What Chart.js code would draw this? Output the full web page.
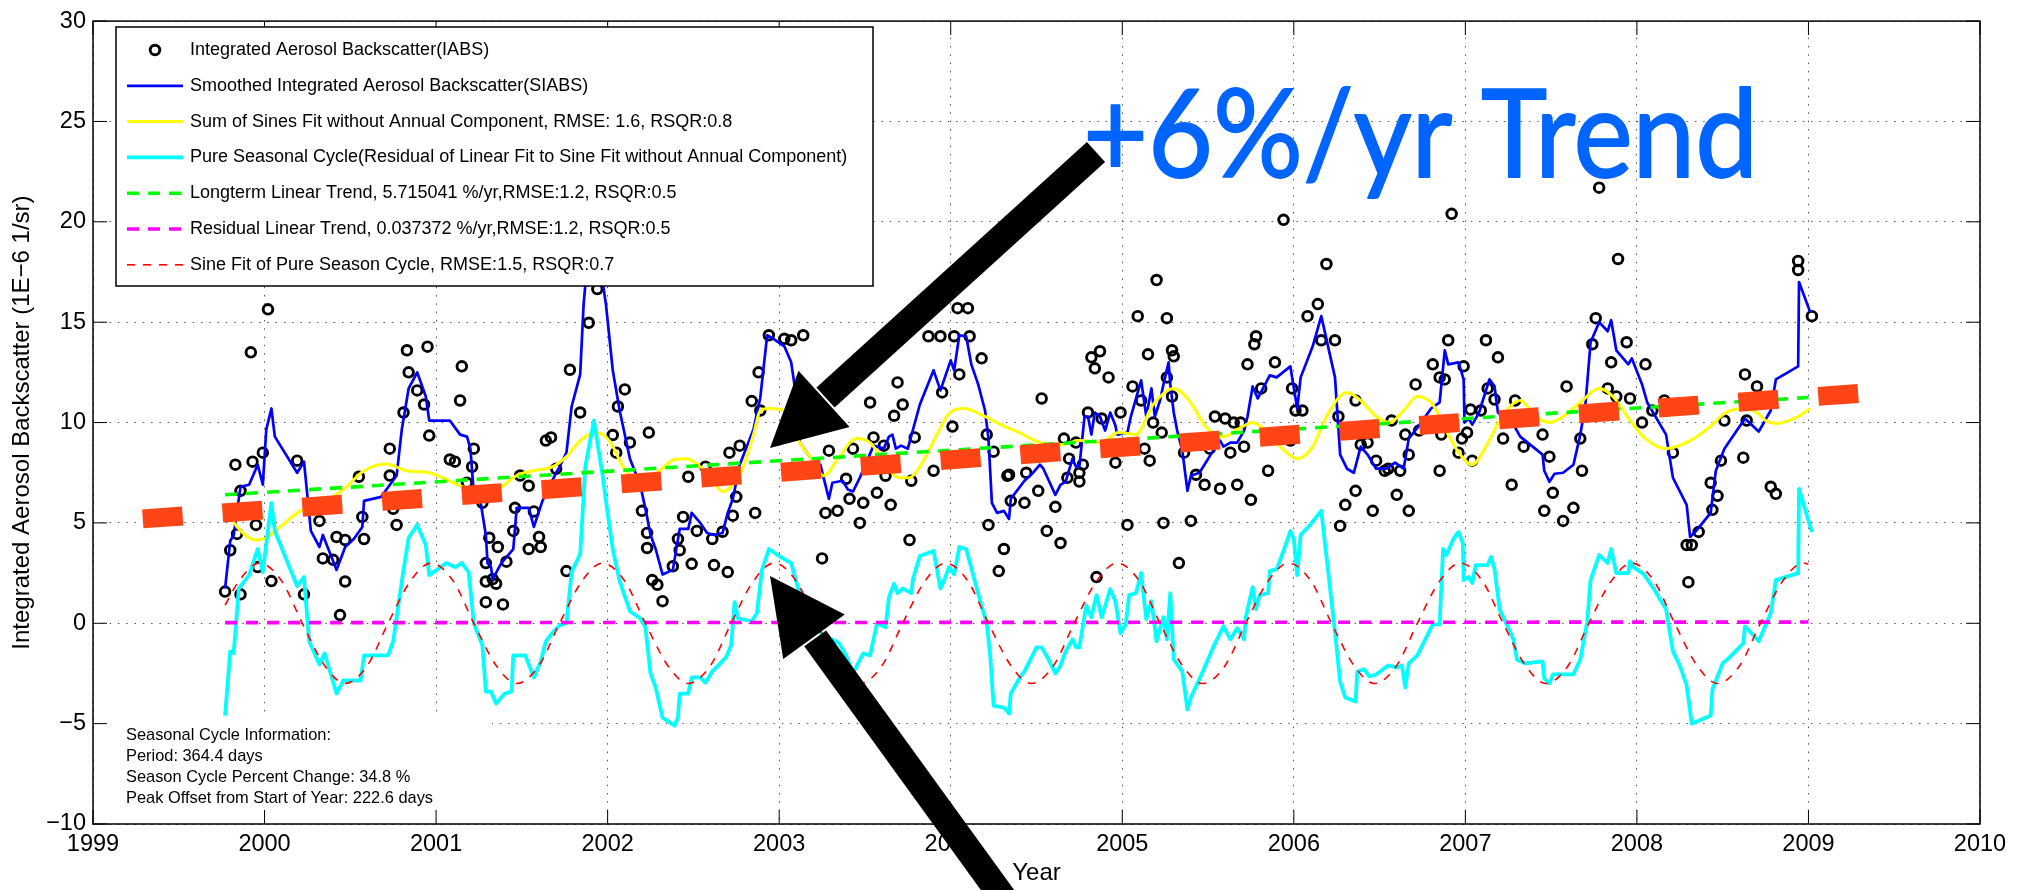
<!DOCTYPE html>
<html>
<head>
<meta charset="utf-8">
<title>Integrated Aerosol Backscatter</title>
<script src="https://cdn.jsdelivr.net/npm/chart.js@4.4.1/dist/chart.umd.min.js"></script>
<style>
  html, body { margin: 0; padding: 0; background: #fff; overflow: hidden; }
  canvas { display: block; }
</style>
</head>
<body>
<canvas id="myChart" width="2026" height="890" style="width:2026px;height:890px"></canvas>
<script>
// axis ticks
const yearTicks = [1999, 2000, 2001, 2002, 2003, 2004, 2005, 2006, 2007, 2008, 2009, 2010];
const valueTicks = [-10, -5, 0, 5, 10, 15, 20, 25, 30];

// Integrated Aerosol Backscatter (circles)
const iabsYear = [1999.77, 1999.80, 1999.83, 1999.84, 1999.86, 1999.86, 1999.92, 1999.93, 1999.95, 1999.96, 1999.99, 2000.02, 2000.04,
  2000.19, 2000.23, 2000.32, 2000.34, 2000.40, 2000.42, 2000.44, 2000.47, 2000.47, 2000.55, 2000.57, 2000.58, 2000.73, 2000.73,
  2000.75, 2000.77, 2000.81, 2000.83, 2000.84, 2000.89, 2000.93, 2000.95, 2000.96, 2001.08, 2001.11, 2001.14, 2001.15, 2001.18,
  2001.21, 2001.22, 2001.27, 2001.29, 2001.29, 2001.29, 2001.31, 2001.33, 2001.35, 2001.36, 2001.39, 2001.41, 2001.45, 2001.46,
  2001.49, 2001.54, 2001.54, 2001.57, 2001.60, 2001.61, 2001.64, 2001.67, 2001.70, 2001.76, 2001.78, 2001.84, 2001.89, 2001.94,
  2002.03, 2002.05, 2002.06, 2002.10, 2002.13, 2002.20, 2002.23, 2002.23, 2002.24, 2002.26, 2002.29, 2002.32, 2002.38, 2002.41,
  2002.42, 2002.44, 2002.47, 2002.49, 2002.52, 2002.57, 2002.61, 2002.62, 2002.67, 2002.70, 2002.71, 2002.73, 2002.75, 2002.77,
  2002.84, 2002.86, 2002.88, 2002.89, 2002.94, 2003.03, 2003.07, 2003.14, 2003.25, 2003.27, 2003.29, 2003.34, 2003.39, 2003.41,
  2003.43, 2003.47, 2003.49, 2003.53, 2003.55, 2003.57, 2003.61, 2003.62, 2003.65, 2003.67, 2003.69, 2003.72, 2003.76, 2003.77,
  2003.79, 2003.81, 2003.87, 2003.90, 2003.94, 2003.95, 2004.01, 2004.02, 2004.04, 2004.05, 2004.10, 2004.11, 2004.18, 2004.21,
  2004.22, 2004.25, 2004.28, 2004.31, 2004.33, 2004.35, 2004.34, 2004.43, 2004.44, 2004.51, 2004.53, 2004.56, 2004.61, 2004.64,
  2004.66, 2004.68, 2004.69, 2004.73, 2004.75, 2004.75, 2004.77, 2004.80, 2004.82, 2004.84, 2004.85, 2004.87, 2004.88, 2004.92,
  2004.96, 2004.99, 2005.03, 2005.06, 2005.09, 2005.11, 2005.13, 2005.15, 2005.16, 2005.18, 2005.20, 2005.23, 2005.24, 2005.26,
  2005.26, 2005.29, 2005.29, 2005.30, 2005.33, 2005.36, 2005.40, 2005.43, 2005.48, 2005.51, 2005.54, 2005.57, 2005.60, 2005.63,
  2005.65, 2005.67, 2005.69, 2005.71, 2005.73, 2005.75, 2005.77, 2005.78, 2005.81, 2005.85, 2005.89, 2005.94, 2005.98, 2005.99,
  2006.01, 2006.05, 2006.08, 2006.14, 2006.16, 2006.19, 2006.24, 2006.26, 2006.27, 2006.30, 2006.36, 2006.36, 2006.39, 2006.43,
  2006.46, 2006.48, 2006.53, 2006.55, 2006.57, 2006.60, 2006.62, 2006.65, 2006.67, 2006.67, 2006.71, 2006.73, 2006.81, 2006.85,
  2006.85, 2006.86, 2006.88, 2006.90, 2006.92, 2006.96, 2006.98, 2006.99, 2007.01, 2007.03, 2007.04, 2007.09, 2007.12, 2007.13,
  2007.17, 2007.19, 2007.22, 2007.27, 2007.29, 2007.34, 2007.45, 2007.46, 2007.49, 2007.51, 2007.57, 2007.59, 2007.63, 2007.67,
  2007.68, 2007.74, 2007.76, 2007.78, 2007.83, 2007.85, 2007.88, 2007.89, 2007.94, 2007.96, 2008.03, 2008.05, 2008.09, 2008.16,
  2008.21, 2008.29, 2008.30, 2008.32, 2008.36, 2008.43, 2008.44, 2008.47, 2008.49, 2008.51, 2008.62, 2008.63, 2008.64, 2008.70,
  2008.78, 2008.81, 2008.94, 2008.94, 2009.02];
const iabsVal = [1.58, 3.64, 7.9, 4.45, 1.44, 6.6, 13.5, 8.05, 4.9, 2.8, 8.5, 15.64, 2.1,
  8.1, 1.44, 5.1, 3.23, 3.16, 4.3, 0.41, 4.15, 2.08, 7.3, 5.3, 4.2, 8.7, 7.36,
  5.7, 4.9, 10.5, 13.6, 12.5, 11.6, 10.9, 13.78, 9.35, 8.16, 8.05, 11.1, 12.8, 7.0,
  7.8, 8.7, 6.0, 3.0, 2.08, 1.05, 4.26, 2.2, 1.97, 3.8, 0.94, 3.07, 4.6, 5.75,
  7.36, 3.7, 6.85, 5.57, 4.3, 3.8, 9.1, 9.26, 7.7, 2.6, 12.63, 10.5, 14.97, 16.65,
  9.38, 8.5, 10.8, 11.65, 9.0, 5.6, 4.5, 3.75, 9.5, 2.15, 1.92, 1.1, 2.84, 4.2,
  3.64, 5.3, 7.3, 2.96, 4.6, 7.8, 4.2, 2.9, 4.56, 2.55, 8.5, 5.36, 6.3, 8.85,
  11.07, 5.5, 12.5, 10.6, 14.35, 14.17, 14.1, 14.35, 3.23, 5.5, 8.6, 5.6, 7.2, 6.2,
  8.7, 5.0, 6.0, 11.0, 9.26, 6.5, 8.85, 7.35, 5.9, 10.34, 12.0, 10.9, 4.15, 7.1,
  9.26, 15.9, 14.3, 7.6, 14.3, 11.5, 9.8, 14.3, 15.7, 12.4, 15.7, 14.3, 13.2, 9.4,
  4.9, 8.55, 2.6, 3.7, 7.35, 6.1, 7.4, 6.0, 7.5, 6.6, 11.2, 4.6, 5.8, 4.0,
  9.2, 7.25, 8.2, 9.0, 7.06, 7.5, 7.9, 10.5, 13.25, 12.7, 2.3, 13.55, 10.2, 12.25,
  8.0, 10.5, 4.9, 11.8, 15.3, 11.1, 8.7, 13.4, 8.1, 10.0, 17.1, 9.5, 5.0, 15.2,
  12.25, 13.6, 11.3, 13.3, 3.0, 8.5, 5.1, 7.4, 6.9, 8.7, 10.3, 6.7, 10.2, 8.5,
  10.0, 6.9, 10.0, 8.8, 12.9, 6.15, 13.9, 14.3, 11.7, 7.6, 13.0, 20.1, 9.1, 11.7,
  10.6, 10.6, 15.3, 15.9, 14.1, 17.9, 14.1, 10.3, 4.85, 5.9, 6.6, 11.1, 8.9, 9.0,
  5.6, 8.1, 7.6, 7.7, 10.1, 6.4, 7.6, 9.4, 8.4, 5.6, 11.9, 9.6, 12.9, 7.6,
  12.25, 9.4, 12.15, 14.1, 20.4, 8.5, 9.2, 12.8, 9.5, 10.65, 8.1, 10.6, 14.1, 11.7,
  11.15, 13.25, 9.2, 6.9, 11.1, 8.8, 9.4, 5.6, 8.3, 6.5, 5.1, 11.8, 5.75, 9.2,
  7.6, 13.9, 15.2, 21.7, 11.7, 13.0, 11.3, 18.15, 14.0, 11.2, 10.0, 12.9, 10.6, 11.1,
  8.5, 3.9, 2.05, 3.9, 4.55, 7.0, 5.65, 6.35, 8.1, 10.1, 8.25, 12.4, 10.1, 11.8,
  6.8, 6.45, 18.05, 17.6, 15.3];

// Smoothed IABS (blue)
const smoothYear = [1999.77, 1999.80, 1999.82, 1999.86, 1999.91, 1999.96, 1999.99, 2000.01, 2000.04, 2000.06, 2000.19, 2000.23,
  2000.27, 2000.32, 2000.34, 2000.42, 2000.47, 2000.52, 2000.57, 2000.58, 2000.68, 2000.77, 2000.80, 2000.84, 2000.89, 2000.94,
  2000.96, 2001.08, 2001.14, 2001.18, 2001.20, 2001.22, 2001.26, 2001.29, 2001.30, 2001.32, 2001.33, 2001.38, 2001.45, 2001.47,
  2001.54, 2001.57, 2001.62, 2001.70, 2001.72, 2001.76, 2001.79, 2001.84, 2001.86, 2001.88, 2001.96, 2001.99, 2002.03, 2002.07,
  2002.13, 2002.19, 2002.23, 2002.25, 2002.28, 2002.32, 2002.38, 2002.42, 2002.47, 2002.49, 2002.54, 2002.58, 2002.62, 2002.67,
  2002.70, 2002.73, 2002.77, 2002.85, 2002.89, 2002.93, 2002.96, 2003.03, 2003.07, 2003.10, 2003.12, 2003.20, 2003.24, 2003.29,
  2003.31, 2003.37, 2003.40, 2003.43, 2003.47, 2003.55, 2003.61, 2003.64, 2003.66, 2003.68, 2003.71, 2003.75, 2003.78, 2003.82,
  2003.90, 2003.94, 2004.00, 2004.02, 2004.05, 2004.09, 2004.12, 2004.16, 2004.20, 2004.22, 2004.24, 2004.27, 2004.31, 2004.34,
  2004.35, 2004.43, 2004.48, 2004.52, 2004.54, 2004.61, 2004.64, 2004.67, 2004.71, 2004.73, 2004.75, 2004.78, 2004.80, 2004.82,
  2004.84, 2004.87, 2004.90, 2004.93, 2004.96, 2004.97, 2005.03, 2005.05, 2005.11, 2005.14, 2005.17, 2005.19, 2005.22, 2005.24,
  2005.27, 2005.28, 2005.30, 2005.32, 2005.35, 2005.38, 2005.40, 2005.45, 2005.53, 2005.57, 2005.59, 2005.63, 2005.67, 2005.71,
  2005.73, 2005.76, 2005.79, 2005.86, 2005.90, 2005.98, 2005.99, 2006.02, 2006.04, 2006.11, 2006.16, 2006.24, 2006.27, 2006.31,
  2006.35, 2006.39, 2006.43, 2006.48, 2006.54, 2006.59, 2006.64, 2006.66, 2006.67, 2006.73, 2006.80, 2006.85, 2006.88, 2006.90,
  2006.96, 2006.99, 2006.995, 2007.02, 2007.04, 2007.08, 2007.14, 2007.17, 2007.19, 2007.29, 2007.32, 2007.45, 2007.46, 2007.49,
  2007.52, 2007.57, 2007.63, 2007.67, 2007.70, 2007.73, 2007.78, 2007.83, 2007.85, 2007.88, 2007.95, 2007.97, 2008.03, 2008.06,
  2008.17, 2008.21, 2008.29, 2008.31, 2008.35, 2008.43, 2008.46, 2008.51, 2008.63, 2008.71, 2008.78, 2008.81, 2008.94, 2008.945,
  2009.01];
const smoothVal = [1.74, 4.1, 4.4, 6.8, 6.9, 7.9, 6.9, 9.65, 10.7, 9.3, 7.5, 8.05,
  4.6, 3.8, 4.4, 2.66, 3.8, 4.2, 4.8, 6.1, 6.3, 7.36, 9.65, 11.7, 12.5, 11.3,
  10.1, 10.1, 9.4, 9.3, 8.7, 6.45, 6.0, 4.4, 3.0, 2.8, 2.2, 3.0, 3.7, 5.75,
  5.75, 4.8, 6.1, 7.5, 7.8, 8.5, 10.8, 12.4, 15.9, 17.8, 17.6, 15.9, 12.6, 10.6,
  8.2, 6.9, 5.3, 4.4, 3.7, 2.43, 2.66, 4.7, 4.7, 5.5, 5.0, 4.5, 4.4, 4.5,
  5.5, 6.2, 7.9, 9.65, 11.25, 14.35, 14.2, 13.8, 13.0, 11.25, 9.0, 8.05, 7.9, 6.2,
  7.0, 7.1, 6.67, 6.56, 7.25, 8.85, 8.7, 9.3, 9.4, 8.7, 8.85, 8.7, 9.65, 10.9,
  12.6, 11.6, 13.1, 12.6, 14.35, 14.3, 12.9, 11.9, 10.6, 9.2, 6.0, 5.5, 5.6, 5.2,
  6.2, 7.1, 7.5, 7.9, 7.7, 6.4, 6.9, 7.06, 8.2, 7.8, 7.8, 10.3, 10.3, 9.4,
  10.5, 10.3, 9.6, 10.5, 9.85, 9.4, 9.5, 10.3, 12.1, 10.3, 11.7, 10.3, 11.1, 11.9,
  13.0, 11.9, 10.5, 9.6, 8.6, 6.6, 7.35, 7.5, 8.6, 9.1, 8.8, 9.0, 9.0, 9.6,
  10.3, 11.8, 11.2, 12.35, 12.25, 12.8, 12.25, 10.7, 12.25, 13.8, 15.3, 12.25, 8.4, 7.7,
  7.5, 8.8, 8.4, 7.7, 7.7, 8.0, 7.7, 8.7, 9.2, 9.85, 10.7, 11.0, 13.6, 12.9,
  13.0, 12.15, 10.0, 10.2, 9.9, 10.5, 12.15, 11.8, 10.5, 9.75, 9.3, 8.4, 7.6, 7.05,
  7.45, 7.5, 7.9, 9.4, 10.9, 14.0, 15.0, 14.55, 15.1, 13.6, 12.9, 13.2, 11.9, 11.0,
  9.4, 7.25, 5.9, 4.3, 4.65, 5.5, 7.6, 8.7, 10.2, 9.55, 10.6, 12.15, 12.8, 17.0,
  15.5];

// Sum of sines fit without annual component (yellow)
const sinesYear = [1999.77, 1999.84, 1999.95, 2000.01, 2000.09, 2000.21, 2000.28, 2000.46, 2000.58, 2000.71, 2000.83, 2000.96,
  2001.10, 2001.18, 2001.29, 2001.37, 2001.47, 2001.57, 2001.68, 2001.76, 2001.84, 2001.93, 2002.01, 2002.09, 2002.17, 2002.30,
  2002.39, 2002.46, 2002.54, 2002.60, 2002.67, 2002.73, 2002.77, 2002.85, 2002.89, 2002.94, 2003.03, 2003.12, 2003.18, 2003.26,
  2003.35, 2003.45, 2003.53, 2003.61, 2003.70, 2003.76, 2003.82, 2003.92, 2003.99, 2004.08, 2004.19, 2004.29, 2004.40, 2004.52,
  2004.64, 2004.75, 2004.87, 2004.98, 2005.08, 2005.18, 2005.30, 2005.39, 2005.49, 2005.59, 2005.69, 2005.76, 2005.84, 2005.92,
  2006.02, 2006.11, 2006.19, 2006.31, 2006.39, 2006.48, 2006.56, 2006.64, 2006.72, 2006.81, 2006.89, 2006.97, 2007.04, 2007.12,
  2007.20, 2007.32, 2007.41, 2007.49, 2007.57, 2007.67, 2007.78, 2007.86, 2007.96, 2008.05, 2008.17, 2008.31, 2008.42, 2008.52,
  2008.62, 2008.70, 2008.75, 2008.81, 2008.94, 2009.01];
const sinesVal = [5.75, 4.8, 4.15, 4.26, 4.8, 5.6, 5.75, 6.67, 7.6, 7.93, 7.6, 7.5,
  7.0, 6.7, 6.2, 6.7, 7.36, 7.6, 7.8, 8.3, 9.1, 9.5, 9.1, 7.8, 7.0, 7.6,
  8.16, 8.2, 7.8, 7.25, 6.56, 6.9, 7.35, 9.4, 10.6, 10.7, 10.6, 9.0, 8.3, 7.35,
  8.3, 9.2, 9.0, 8.05, 7.25, 7.25, 7.8, 9.4, 10.45, 10.7, 10.34, 9.9, 9.5, 9.0,
  8.9, 9.1, 9.0, 9.5, 9.4, 10.9, 11.7, 11.1, 9.75, 9.3, 9.75, 10.0, 9.55, 8.8,
  8.2, 8.8, 10.3, 11.5, 11.1, 10.3, 10.0, 10.6, 11.3, 10.9, 9.55, 8.4, 7.9, 8.8,
  10.1, 11.1, 10.3, 10.0, 10.3, 11.0, 11.7, 11.3, 10.1, 9.2, 8.7, 9.1, 9.75, 10.5,
  10.7, 10.5, 10.1, 9.95, 10.3, 10.7];

// Pure seasonal cycle (cyan)
const seasonYear = [1999.77, 1999.80, 1999.82, 1999.85, 1999.91, 1999.96, 1999.99, 2000.04, 2000.06, 2000.19, 2000.23, 2000.26,
  2000.32, 2000.35, 2000.42, 2000.46, 2000.56, 2000.58, 2000.72, 2000.75, 2000.80, 2000.84, 2000.89, 2000.94, 2000.96, 2001.06,
  2001.11, 2001.15, 2001.19, 2001.22, 2001.27, 2001.29, 2001.32, 2001.35, 2001.40, 2001.44, 2001.45, 2001.52, 2001.57, 2001.61,
  2001.64, 2001.68, 2001.72, 2001.76, 2001.79, 2001.84, 2001.87, 2001.92, 2001.97, 2002.00, 2002.03, 2002.07, 2002.13, 2002.19,
  2002.22, 2002.25, 2002.28, 2002.32, 2002.39, 2002.41, 2002.42, 2002.47, 2002.49, 2002.54, 2002.57, 2002.61, 2002.64, 2002.69,
  2002.72, 2002.74, 2002.76, 2002.84, 2002.87, 2002.90, 2002.94, 2003.00, 2003.07, 2003.11, 2003.15, 2003.20, 2003.24, 2003.27,
  2003.31, 2003.35, 2003.39, 2003.43, 2003.49, 2003.53, 2003.57, 2003.62, 2003.64, 2003.67, 2003.69, 2003.72, 2003.77, 2003.78,
  2003.82, 2003.90, 2003.94, 2003.96, 2003.99, 2004.02, 2004.05, 2004.09, 2004.17, 2004.21, 2004.23, 2004.25, 2004.31, 2004.34,
  2004.35, 2004.40, 2004.43, 2004.50, 2004.53, 2004.57, 2004.61, 2004.64, 2004.67, 2004.71, 2004.73, 2004.75, 2004.79, 2004.82,
  2004.85, 2004.88, 2004.93, 2004.96, 2004.99, 2005.02, 2005.04, 2005.08, 2005.11, 2005.14, 2005.17, 2005.20, 2005.24, 2005.26,
  2005.28, 2005.30, 2005.35, 2005.38, 2005.40, 2005.47, 2005.53, 2005.59, 2005.63, 2005.67, 2005.71, 2005.72, 2005.76, 2005.78,
  2005.80, 2005.85, 2005.86, 2005.90, 2005.94, 2005.98, 2006.00, 2006.02, 2006.04, 2006.09, 2006.16, 2006.20, 2006.24, 2006.27,
  2006.30, 2006.36, 2006.37, 2006.41, 2006.44, 2006.48, 2006.55, 2006.60, 2006.63, 2006.65, 2006.67, 2006.72, 2006.81, 2006.85,
  2006.87, 2006.89, 2006.93, 2006.96, 2006.985, 2006.99, 2007.02, 2007.04, 2007.06, 2007.13, 2007.15, 2007.17, 2007.20, 2007.24,
  2007.28, 2007.30, 2007.35, 2007.45, 2007.46, 2007.49, 2007.51, 2007.63, 2007.67, 2007.71, 2007.73, 2007.78, 2007.83, 2007.85,
  2007.88, 2007.95, 2007.96, 2007.98, 2008.04, 2008.10, 2008.17, 2008.21, 2008.25, 2008.29, 2008.32, 2008.43, 2008.44, 2008.50,
  2008.54, 2008.62, 2008.63, 2008.71, 2008.78, 2008.81, 2008.94, 2008.945, 2009.02];
const seasonVal = [-4.6, -1.4, -1.5, 1.74, 2.4, 3.7, 2.55, 6.0, 4.6, 1.85, 2.3, -0.9,
  -2.05, -1.5, -3.5, -2.85, -2.85, -1.6, -1.6, -0.9, 2.08, 4.26, 4.9, 3.9, 2.4, 3.0,
  2.8, 3.0, 2.55, 0.0, -1.1, -3.4, -3.4, -4.0, -3.5, -3.4, -1.6, -1.6, -2.7, -1.9,
  -0.9, -0.45, -0.1, 0.0, 2.55, 3.45, 7.8, 10.1, 7.4, 5.5, 3.7, 2.1, 0.6, 0.25,
  -0.2, -2.5, -3.2, -4.7, -5.1, -4.7, -3.5, -3.5, -2.7, -2.7, -2.96, -2.4, -2.15, -1.7,
  -1.1, 1.05, 0.25, 0.1, 0.5, 2.66, 3.7, 3.35, 3.0, 1.74, 1.17, 0.0, -0.45, -1.1,
  -0.8, -1.0, -1.6, -2.5, -1.5, -1.6, 0.0, -0.2, 1.3, 1.97, 1.5, 1.74, 1.5, 2.2,
  3.35, 3.6, 1.74, 2.1, 2.8, 2.43, 3.8, 3.7, 1.17, 0.0, -1.6, -4.1, -4.2, -4.5,
  -3.5, -2.75, -2.4, -1.2, -1.2, -1.8, -2.5, -2.1, -1.4, -0.8, -1.2, -1.2, 0.9, 0.3,
  1.4, 0.3, 1.7, 1.1, -0.5, -0.05, 1.4, 1.5, 2.5, 0.2, 1.1, -0.9, 0.3, -0.8,
  1.5, -1.8, -2.4, -4.3, -3.7, -2.4, -1.2, -0.15, -0.8, -0.25, -0.8, 0.3, 1.8, 0.7,
  1.4, 1.5, 2.6, 2.7, 3.6, 4.6, 4.2, 2.4, 4.4, 4.85, 5.6, 2.6, -0.45, -2.9,
  -3.7, -3.9, -2.4, -2.3, -2.65, -2.55, -2.1, -2.2, -2.1, -3.2, -2.0, -1.6, -0.05, -0.05,
  3.7, 3.4, 4.2, 4.55, 4.0, 2.15, 2.3, 2.0, 2.9, 2.9, 3.3, 2.7, 0.7, -0.05,
  -0.8, -1.8, -2.0, -1.9, -2.75, -3.0, -2.55, -2.55, -1.8, 0.05, 2.15, 3.4, 3.0, 3.7,
  2.5, 2.5, 3.1, 2.8, 2.45, 1.7, 0.7, -1.4, -2.1, -3.1, -5.0, -4.6, -3.3, -2.0,
  -1.7, -1.0, -0.15, -0.9, 0.5, 2.15, 2.5, 6.7, 4.55];

// Sine fit of pure season cycle (red dashed)
const sineYear = [1999.77, 1999.85, 1999.97, 2000.10, 2000.22, 2000.35, 2000.47, 2000.60, 2000.72, 2000.85,
  2000.97, 2001.10, 2001.22, 2001.35, 2001.47, 2001.60, 2001.72, 2001.85,
  2001.97, 2002.10, 2002.22, 2002.35, 2002.47, 2002.60, 2002.72, 2002.85,
  2002.97, 2003.10, 2003.22, 2003.35, 2003.47, 2003.60, 2003.72, 2003.85,
  2003.97, 2004.10, 2004.22, 2004.35, 2004.47, 2004.60, 2004.72, 2004.85,
  2004.97, 2005.10, 2005.22, 2005.35, 2005.47, 2005.60, 2005.72, 2005.85,
  2005.97, 2006.10, 2006.22, 2006.35, 2006.47, 2006.60, 2006.72, 2006.85,
  2006.97, 2007.10, 2007.22, 2007.35, 2007.47, 2007.60, 2007.72, 2007.85,
  2007.97, 2008.10, 2008.22, 2008.35, 2008.47, 2008.60, 2008.72, 2008.85,
  2008.97, 2009.00];
const sineVal = [0.9, 2.1, 3.0, 2.1, 0.0, -2.1, -3.0, -2.1, 0.0, 2.1,
  3.0, 2.1, 0.0, -2.1, -3.0, -2.1, 0.0, 2.1,
  3.0, 2.1, 0.0, -2.1, -3.0, -2.1, 0.0, 2.1,
  3.0, 2.1, 0.0, -2.1, -3.0, -2.1, 0.0, 2.1,
  3.0, 2.1, 0.0, -2.1, -3.0, -2.1, 0.0, 2.1,
  3.0, 2.1, 0.0, -2.1, -3.0, -2.1, 0.0, 2.1,
  3.0, 2.1, 0.0, -2.1, -3.0, -2.1, 0.0, 2.1,
  3.0, 2.1, 0.0, -2.1, -3.0, -2.1, 0.0, 2.1,
  3.0, 2.1, 0.0, -2.1, -3.0, -2.1, 0.0, 2.1,
  3.0, 2.95];

// linear trends
const trendYear = [1999.77, 2009.0];
const trendVal = [6.4, 11.25];
const residYear = [1999.77, 2009.0];
const residVal = [0.03, 0.06];
const bigTrendYear = [1999.29, 2009.29];
const bigTrendVal = [5.2, 11.45];

const infoLines = ['Seasonal Cycle Information:', 'Period: 364.4 days',
  'Season Cycle Percent Change: 34.8 %', 'Peak Offset from Start of Year: 222.6 days'];

const FONT = '"Liberation Sans", Arial, Helvetica, sans-serif';
Chart.defaults.font.family = FONT;
Chart.defaults.color = '#000';

function pts(xs, ys) { return xs.map((x, i) => ({x: x, y: ys[i]})); }

function lineSet(label, xs, ys, color, width, dash, smooth) {
  return {
    label: label, data: pts(xs, ys), showLine: true,
    borderColor: color, backgroundColor: color, borderWidth: width,
    borderDash: dash || [], pointRadius: 0, pointHoverRadius: 0,
    cubicInterpolationMode: smooth ? 'monotone' : 'default', tension: 0,
    borderCapStyle: 'butt', borderJoinStyle: 'round'
  };
}

// datasets listed top-most first (chart.js draws index 0 last)
const bigTrend = lineSet('', bigTrendYear, bigTrendVal, '#FF4516', 19, [40, 40]);
const sineFit = lineSet('Sine Fit of Pure Season Cycle, RMSE:1.5, RSQR:0.7', sineYear, sineVal, '#FF0000', 1.6, [8, 8], true);
const resid = lineSet('Residual Linear Trend, 0.037372 %/yr,RMSE:1.2, RSQR:0.5', residYear, residVal, '#FF00FF', 3.6, [12, 9]);
const trend = lineSet('Longterm Linear Trend, 5.715041 %/yr,RMSE:1.2, RSQR:0.5', trendYear, trendVal, '#00FF00', 3.6, [12, 9]);
const season = lineSet('Pure Seasonal Cycle(Residual of Linear Fit to Sine Fit without Annual Component)', seasonYear, seasonVal, '#00FFFF', 3.8);
const sines = lineSet('Sum of Sines Fit without Annual Component, RMSE: 1.6, RSQR:0.8', sinesYear, sinesVal, '#FFFF00', 3, [], true);
const smooth = lineSet('Smoothed Integrated Aerosol Backscatter(SIABS)', smoothYear, smoothVal, '#0000FF', 2.7);
const iabs = {
  label: 'Integrated Aerosol Backscatter(IABS)', data: pts(iabsYear, iabsVal), showLine: false,
  pointStyle: 'circle', pointRadius: 4.8, pointBorderWidth: 2.9, borderColor: '#000',
  backgroundColor: 'rgba(0,0,0,0)', pointHoverRadius: 4.8, isMarker: true
};
const legendOrder = [iabs, smooth, sines, season, trend, resid, sineFit];

function arrow(ctx, tail, tip, shaft, headLen, headHalf) {
  const dx = tail[0] - tip[0], dy = tail[1] - tip[1];
  const len = Math.sqrt(dx * dx + dy * dy);
  const ux = dx / len, uy = dy / len;
  const bx = tip[0] + ux * headLen, by = tip[1] + uy * headLen;
  ctx.save();
  ctx.fillStyle = '#000';
  ctx.strokeStyle = '#000';
  ctx.lineWidth = shaft;
  ctx.lineCap = 'butt';
  ctx.beginPath();
  ctx.moveTo(tail[0], tail[1]);
  ctx.lineTo(bx + ux * 2, by + uy * 2);
  ctx.stroke();
  ctx.beginPath();
  ctx.moveTo(tip[0], tip[1]);
  ctx.lineTo(bx - uy * headHalf, by + ux * headHalf);
  ctx.lineTo(bx + uy * headHalf, by - ux * headHalf);
  ctx.closePath();
  ctx.fill();
  ctx.restore();
}

const decorations = {
  id: 'decorations',
  beforeDatasetsDraw(chart) {
    const ctx = chart.ctx;
    ctx.save();
    ctx.fillStyle = '#fff';
    ctx.fillRect(96, 713, 396, 109);
    ctx.restore();
  },
  afterDatasetsDraw(chart) {
    const ctx = chart.ctx;
    const a = chart.chartArea;
    const xs = chart.scales.x, ys = chart.scales.y;
    ctx.save();

    // frame and inward ticks
    ctx.strokeStyle = '#000';
    ctx.lineWidth = 1.5;
    ctx.strokeRect(a.left, a.top, a.right - a.left, a.bottom - a.top);
    ctx.lineWidth = 1;
    ctx.beginPath();
    yearTicks.forEach(function(v) {
      const px = xs.getPixelForValue(v);
      ctx.moveTo(px, a.bottom); ctx.lineTo(px, a.bottom - 14);
      ctx.moveTo(px, a.top); ctx.lineTo(px, a.top + 14);
    });
    valueTicks.forEach(function(v) {
      const py = ys.getPixelForValue(v);
      ctx.moveTo(a.left, py); ctx.lineTo(a.left + 14, py);
      ctx.moveTo(a.right, py); ctx.lineTo(a.right - 14, py);
    });
    ctx.stroke();

    // info text
    ctx.fillStyle = '#000';
    ctx.font = '16.4px ' + FONT;
    ctx.textBaseline = 'middle';
    infoLines.forEach(function(t, i) { ctx.fillText(t, 126, 735 + i * 21); });

    // legend box
    ctx.fillStyle = '#fff';
    ctx.fillRect(116, 27, 757, 259);
    ctx.strokeStyle = '#000';
    ctx.lineWidth = 1.5;
    ctx.strokeRect(116, 27, 757, 259);
    ctx.font = '18px ' + FONT;
    legendOrder.forEach(function(ds, i) {
      const y = 50 + i * 35.8;
      if (ds.isMarker) {
        ctx.beginPath();
        ctx.lineWidth = ds.pointBorderWidth;
        ctx.strokeStyle = ds.borderColor;
        ctx.arc(155, y, ds.pointRadius, 0, Math.PI * 2);
        ctx.stroke();
      } else {
        ctx.beginPath();
        ctx.lineWidth = ds.borderWidth;
        ctx.strokeStyle = ds.borderColor;
        ctx.setLineDash(ds.borderDash);
        ctx.moveTo(127, y);
        ctx.lineTo(183, y);
        ctx.stroke();
        ctx.setLineDash([]);
      }
      ctx.fillStyle = '#000';
      ctx.fillText(ds.label, 190, y);
    });

    // annotation arrows
    arrow(ctx, [1096, 152], [770, 448], 27, 73, 38);
    arrow(ctx, [1012, 910], [770, 576], 27, 75, 38);

    // annotation text, a little heavier than regular Lato
    const txt = '+6%/yr Trend';
    ctx.font = '123px Lato, "Open Sans", sans-serif';
    ctx.textBaseline = 'alphabetic';
    const w = ctx.measureText(txt).width;
    ctx.translate(1083, 177);
    ctx.scale(675 / w, 1);
    ctx.fillStyle = '#0064FF';
    ctx.strokeStyle = '#0064FF';
    ctx.lineWidth = 1.8;
    ctx.lineJoin = 'round';
    ctx.fillText(txt, 0, 0);
    ctx.strokeText(txt, 0, 0);
    ctx.restore();
  }
};

const ctx = document.getElementById('myChart');

new Chart(ctx, {
  type: 'scatter',
  data: {
    datasets: [bigTrend, sineFit, resid, trend, season, sines, smooth, iabs]
  },
  options: {
    responsive: false,
    devicePixelRatio: 1,
    animation: false,
    events: [],
    layout: { padding: { left: 0, right: 46, top: 12, bottom: 0 } },
    plugins: { legend: { display: false }, tooltip: { enabled: false } },
    scales: {
      x: {
        type: 'linear', min: 1999, max: 2010,
        afterFit: function(s) { s.height = 66; },
        afterBuildTicks: function(s) { s.ticks = yearTicks.map(v => ({value: v})); },
        ticks: { padding: 6, font: { size: 23.5 }, color: '#000', callback: v => String(v), maxRotation: 0 },
        grid: { color: '#555', lineWidth: 1, drawTicks: false },
        border: { display: false, dash: [1.5, 6.8] },
        title: { display: true, text: 'Year', font: { size: 24 }, color: '#000', padding: { top: 0, bottom: 2.6 } }
      },
      y: {
        type: 'linear', min: -10, max: 30,
        afterFit: function(s) { s.width = 93; },
        afterBuildTicks: function(s) { s.ticks = valueTicks.map(v => ({value: v})); },
        ticks: { padding: 7, font: { size: 23.5 }, color: '#000',
          callback: v => (v < 0 ? '\u2212' + Math.abs(v) : String(v)) },
        grid: { color: '#555', lineWidth: 1, drawTicks: false },
        border: { display: false, dash: [1.5, 6.8] },
        title: { display: true, text: 'Integrated Aerosol Backscatter (1E\u22126 1/sr)', font: { size: 24 }, color: '#000', padding: { top: 7.6, bottom: 0 } }
      }
    }
  },
  plugins: [decorations]
});
</script>
</body>
</html>
